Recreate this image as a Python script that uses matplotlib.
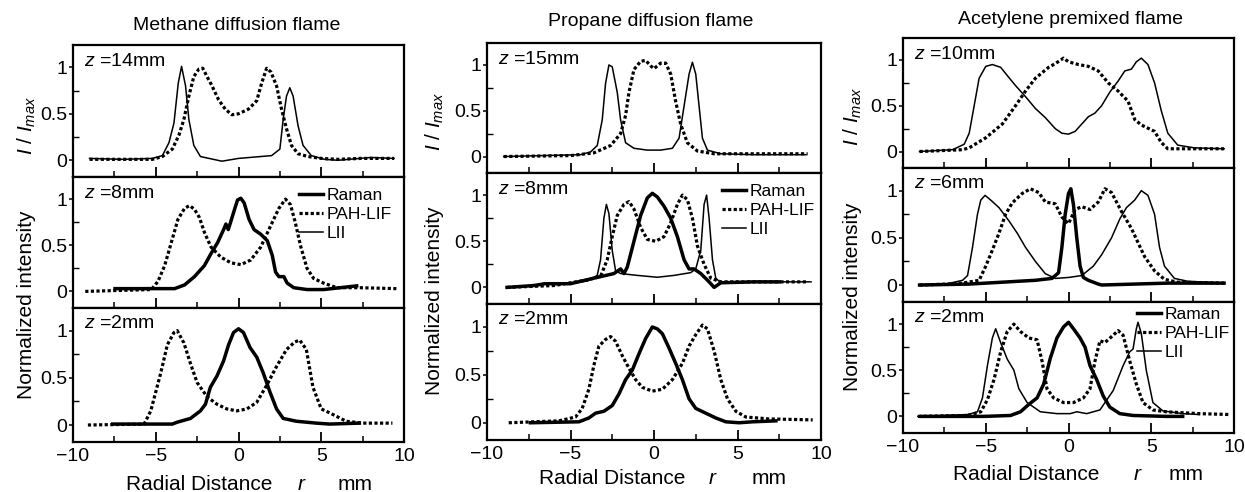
import numpy as np
import matplotlib
matplotlib.use('Agg')
import matplotlib.pyplot as plt
from matplotlib.ticker import FixedLocator
from matplotlib.lines import Line2D

plt.rcParams['font.family'] = ['Liberation Sans', 'DejaVu Sans']
plt.rcParams['mathtext.fontset'] = 'custom'
plt.rcParams['mathtext.rm'] = 'Liberation Sans'
plt.rcParams['mathtext.it'] = 'Liberation Sans:italic'

# ---------------- data (r in mm, normalized intensity) ----------------
# Methane diffusion flame, z = 14 mm
m14_lii_r = [-9.0, -7.0, -5.2, -4.6, -4.2, -3.9, -3.64, -3.44, -3.2, -3.0, -2.7, -2.3, -1.0, 0.0, 2.0, 2.5, 2.7, 2.9, 3.1, 3.3, 3.6, 3.9, 4.4, 5.2, 6.0, 8.0, 9.4]
m14_lii_v = [0.02, 0.01, 0.02, 0.05, 0.19, 0.4, 0.83, 1.01, 0.8, 0.44, 0.16, 0.04, -0.01, 0.02, 0.05, 0.12, 0.44, 0.69, 0.78, 0.69, 0.37, 0.16, 0.05, 0.01, 0.0, 0.03, 0.02]
m14_pah_r = [-9.0, -5.2, -4.6, -4.0, -3.6, -3.3, -3.0, -2.7, -2.4, -2.16, -1.9, -1.6, -1.2, -0.8, -0.4, 0.0, 0.6, 1.1, 1.4, 1.7, 1.96, 2.3, 2.6, 2.9, 3.2, 3.6, 4.2, 5.0, 6.0, 7.4, 9.4]
m14_pah_v = [0.01, 0.01, 0.04, 0.12, 0.27, 0.44, 0.69, 0.9, 0.98, 0.99, 0.9, 0.8, 0.65, 0.55, 0.49, 0.5, 0.55, 0.64, 0.83, 0.99, 0.95, 0.8, 0.55, 0.34, 0.16, 0.07, 0.04, 0.02, 0.01, 0.02, 0.02]

# Methane, z = 8 mm
m8_ram_r = [-7.46, -3.86, -3.26, -2.66, -2.06, -1.66, -1.26, -0.9, -0.76, -0.62, -0.46, -0.22, -0.06, 0.14, 0.34, 0.64, 0.94, 1.34, 1.74, 2.04, 2.24, 2.44, 2.74, 2.94, 3.34, 4.14, 5.14, 6.14, 7.14]
m8_ram_v = [0.03, 0.03, 0.07, 0.16, 0.28, 0.41, 0.53, 0.67, 0.73, 0.67, 0.76, 0.9, 0.99, 1.01, 0.96, 0.78, 0.67, 0.62, 0.55, 0.39, 0.21, 0.16, 0.16, 0.09, 0.04, 0.02, 0.02, 0.04, 0.06]
m8_pah_r = [-9.26, -5.26, -4.86, -4.46, -4.06, -3.66, -3.26, -2.96, -2.66, -2.36, -2.06, -1.66, -1.06, -0.46, 0.14, 0.74, 1.34, 1.94, 2.44, 2.84, 3.14, 3.44, 3.74, 4.14, 4.54, 5.14, 5.94, 7.34, 9.54]
m8_pah_v = [0.0, 0.02, 0.11, 0.28, 0.53, 0.78, 0.9, 0.93, 0.89, 0.8, 0.64, 0.48, 0.37, 0.31, 0.29, 0.34, 0.48, 0.71, 0.9, 1.0, 0.94, 0.74, 0.5, 0.25, 0.14, 0.09, 0.04, 0.04, 0.03]

# Methane, z = 2 mm
m2_ram_r = [-7.6, -4.0, -3.7, -2.9, -2.3, -2.0, -1.7, -1.3, -0.9, -0.6, -0.3, 0.0, 0.3, 0.7, 1.1, 1.5, 1.9, 2.3, 2.7, 3.5, 4.7, 5.5, 7.3]
m2_ram_v = [0.01, 0.01, 0.03, 0.07, 0.15, 0.22, 0.4, 0.52, 0.68, 0.85, 0.98, 1.02, 0.98, 0.82, 0.72, 0.55, 0.35, 0.17, 0.07, 0.04, 0.02, 0.01, 0.02]
m2_pah_r = [-9.1, -5.7, -5.3, -4.7, -4.3, -3.9, -3.7, -3.3, -2.9, -2.5, -1.9, -1.3, -0.7, -0.1, 0.5, 1.1, 1.7, 2.3, 2.9, 3.4, 3.7, 4.1, 4.5, 5.0, 5.5, 6.5, 7.5, 9.3]
m2_pah_v = [0.0, 0.01, 0.15, 0.55, 0.85, 0.98, 1.0, 0.87, 0.65, 0.45, 0.3, 0.22, 0.17, 0.15, 0.17, 0.24, 0.42, 0.62, 0.8, 0.88, 0.9, 0.8, 0.4, 0.17, 0.13, 0.04, 0.02, 0.02]

# Propane diffusion flame, z = 15 mm
p15_lii_r = [-9.0, -4.4, -3.8, -3.4, -3.1, -2.9, -2.7, -2.5, -2.2, -2.0, -1.7, -1.2, -0.4, 0.4, 1.1, 1.5, 1.8, 2.1, 2.3, 2.5, 2.7, 2.9, 3.2, 4.0, 6.0, 9.1]
p15_lii_v = [0.0, 0.02, 0.05, 0.12, 0.4, 0.8, 1.0, 0.98, 0.7, 0.4, 0.15, 0.09, 0.07, 0.07, 0.09, 0.2, 0.55, 0.9, 1.03, 0.9, 0.55, 0.2, 0.07, 0.03, 0.02, 0.02]
p15_pah_r = [-9.0, -5.0, -3.6, -2.6, -2.0, -1.7, -1.5, -1.2, -0.8, -0.5, -0.2, 0.0, 0.4, 0.7, 1.0, 1.3, 1.6, 2.0, 2.6, 3.6, 6.0, 9.2]
p15_pah_v = [0.0, 0.01, 0.04, 0.12, 0.25, 0.45, 0.7, 0.95, 1.04, 1.05, 0.99, 0.96, 1.02, 1.02, 0.9, 0.6, 0.35, 0.15, 0.06, 0.03, 0.03, 0.03]

# Propane, z = 8 mm
p8_lii_r = [-8.8, -7.2, -6.5, -6.0, -5.0, -4.0, -3.4, -3.2, -3.0, -2.85, -2.7, -2.5, -2.3, -2.0, -1.0, 0.2, 1.2, 2.2, 2.5, 2.8, 3.0, 3.15, 3.3, 3.5, 3.7, 4.0, 6.0, 9.4]
p8_lii_v = [0.0, 0.02, 0.05, 0.03, 0.04, 0.07, 0.13, 0.3, 0.75, 0.9, 0.8, 0.4, 0.18, 0.15, 0.13, 0.11, 0.13, 0.16, 0.2, 0.4, 0.9, 1.0, 0.75, 0.3, 0.1, 0.05, 0.06, 0.06]
p8_ram_r = [-8.8, -7.2, -6.5, -5.0, -3.6, -2.4, -2.0, -1.8, -1.6, -1.2, -0.8, -0.4, -0.1, 0.2, 0.6, 1.0, 1.4, 1.8, 2.1, 2.4, 2.8, 3.3, 3.6, 4.0, 6.0, 7.5]
p8_ram_v = [0.0, 0.02, 0.04, 0.04, 0.1, 0.15, 0.2, 0.15, 0.22, 0.5, 0.78, 0.97, 1.02, 0.98, 0.88, 0.75, 0.55, 0.3, 0.2, 0.2, 0.15, 0.06, 0.0, 0.05, 0.06, 0.06]
p8_pah_r = [-8.8, -6.0, -4.0, -3.2, -2.8, -2.5, -2.2, -1.8, -1.5, -1.2, -0.8, -0.4, 0.1, 0.6, 1.0, 1.4, 1.7, 2.0, 2.3, 2.6, 3.0, 3.4, 4.0, 6.0, 9.2]
p8_pah_v = [0.0, 0.02, 0.08, 0.12, 0.3, 0.55, 0.78, 0.9, 0.93, 0.85, 0.65, 0.52, 0.5, 0.55, 0.7, 0.9, 1.0, 0.95, 0.75, 0.45, 0.25, 0.1, 0.06, 0.06, 0.06]

# Propane, z = 2 mm
p2_ram_r = [-7.4, -4.5, -3.9, -3.5, -3.0, -2.5, -2.1, -1.7, -1.3, -0.9, -0.5, -0.1, 0.2, 0.5, 0.9, 1.3, 1.7, 2.1, 2.5, 3.1, 3.7, 4.3, 5.1, 5.9, 7.3]
p2_ram_v = [0.0, 0.01, 0.05, 0.1, 0.12, 0.18, 0.3, 0.45, 0.55, 0.72, 0.88, 1.0, 0.98, 0.93, 0.78, 0.62, 0.45, 0.25, 0.15, 0.1, 0.05, 0.01, 0.0, 0.01, 0.02]
p2_pah_r = [-8.7, -5.7, -4.7, -4.3, -3.9, -3.6, -3.3, -2.9, -2.6, -2.3, -1.9, -1.5, -1.1, -0.7, -0.1, 0.5, 1.1, 1.7, 2.1, 2.5, 2.9, 3.2, 3.6, 4.0, 4.4, 4.9, 5.5, 6.9, 9.5]
p2_pah_v = [0.0, 0.02, 0.06, 0.15, 0.35, 0.6, 0.8, 0.87, 0.9, 0.85, 0.7, 0.57, 0.45, 0.37, 0.33, 0.35, 0.45, 0.62, 0.8, 0.92, 1.02, 0.98, 0.75, 0.45, 0.25, 0.12, 0.06, 0.04, 0.03]

# Acetylene premixed flame, z = 10 mm
a10_lii_r = [-9.0, -7.0, -6.3, -6.0, -5.7, -5.4, -5.0, -4.6, -4.1, -3.7, -3.2, -2.6, -2.0, -1.4, -0.8, -0.4, 0.0, 0.4, 0.8, 1.2, 1.6, 2.0, 2.5, 3.0, 3.4, 3.8, 4.1, 4.4, 4.8, 5.2, 5.6, 6.0, 6.6, 7.6, 9.4]
a10_lii_v = [0.0, 0.02, 0.08, 0.2, 0.5, 0.8, 0.93, 0.95, 0.92, 0.83, 0.72, 0.6, 0.47, 0.37, 0.25, 0.2, 0.19, 0.22, 0.3, 0.38, 0.42, 0.5, 0.65, 0.77, 0.88, 0.9, 0.98, 1.02, 0.95, 0.75, 0.45, 0.2, 0.07, 0.04, 0.03]
a10_pah_r = [-9.0, -6.4, -6.0, -5.0, -4.0, -3.2, -2.6, -2.0, -1.6, -1.2, -0.8, -0.3, 0.0, 0.6, 1.2, 1.8, 2.4, 3.0, 3.6, 4.0, 4.4, 5.2, 5.6, 6.0, 7.0, 9.4]
a10_pah_v = [0.0, 0.02, 0.04, 0.15, 0.3, 0.5, 0.66, 0.8, 0.86, 0.92, 0.96, 1.02, 0.98, 0.95, 0.93, 0.88, 0.75, 0.66, 0.55, 0.35, 0.29, 0.22, 0.1, 0.03, 0.03, 0.03]

# Acetylene, z = 6 mm
a6_lii_r = [-9.0, -7.4, -6.4, -6.1, -5.8, -5.5, -5.3, -5.04, -4.7, -4.2, -3.6, -3.1, -2.6, -2.0, -1.4, -0.8, 0.0, 0.8, 1.5, 2.0, 2.6, 3.1, 3.5, 4.0, 4.4, 4.8, 5.2, 5.5, 5.8, 6.4, 7.2, 9.4]
a6_lii_v = [0.0, 0.01, 0.05, 0.1, 0.4, 0.75, 0.9, 0.95, 0.9, 0.82, 0.68, 0.55, 0.4, 0.25, 0.12, 0.07, 0.08, 0.1, 0.2, 0.32, 0.5, 0.7, 0.82, 0.9, 1.0, 0.95, 0.75, 0.4, 0.2, 0.07, 0.04, 0.02]
a6_ram_r = [-9.0, -6.0, -4.0, -2.0, -1.0, -0.6, -0.4, -0.2, 0.0, 0.14, 0.3, 0.5, 0.7, 0.9, 1.2, 1.8, 2.0, 4.0, 6.0, 9.4]
a6_ram_v = [0.0, 0.01, 0.03, 0.05, 0.07, 0.13, 0.4, 0.75, 0.97, 1.02, 0.85, 0.5, 0.2, 0.08, 0.05, 0.01, 0.0, 0.01, 0.02, 0.02]
a6_pah_r = [-9.0, -7.2, -6.4, -5.4, -5.0, -4.6, -4.2, -3.8, -3.4, -2.8, -2.3, -1.8, -1.4, -0.8, -0.4, 0.0, 0.4, 0.8, 1.3, 1.8, 2.2, 2.6, 3.2, 3.8, 4.2, 4.6, 5.2, 5.8, 6.6, 9.4]
a6_pah_v = [0.0, 0.01, 0.02, 0.05, 0.2, 0.37, 0.55, 0.75, 0.87, 0.97, 1.02, 0.98, 0.88, 0.86, 0.72, 0.65, 0.8, 0.83, 0.8, 0.88, 1.02, 0.98, 0.78, 0.6, 0.45, 0.3, 0.15, 0.06, 0.03, 0.02]

# Acetylene, z = 2 mm
a2_lii_r = [-9.1, -6.1, -5.5, -5.2, -4.9, -4.6, -4.4, -4.1, -3.7, -3.3, -3.0, -2.5, -1.7, -0.7, 0.1, 0.5, 1.1, 1.9, 2.7, 3.3, 3.7, 3.9, 4.1, 4.2, 4.4, 4.7, 5.1, 5.7, 6.9, 7.9]
a2_lii_v = [0.0, 0.02, 0.05, 0.2, 0.55, 0.85, 0.95, 0.8, 0.62, 0.5, 0.3, 0.15, 0.05, 0.03, 0.03, 0.05, 0.03, 0.07, 0.28, 0.55, 0.7, 0.73, 0.95, 1.02, 0.9, 0.5, 0.15, 0.06, 0.03, 0.02]
a2_ram_r = [-8.9, -5.1, -3.5, -2.9, -2.4, -1.9, -1.5, -1.1, -0.7, -0.3, 0.0, 0.3, 0.7, 1.0, 1.3, 1.7, 2.1, 2.5, 3.1, 3.9, 5.9, 6.9]
a2_ram_v = [0.0, 0.0, 0.01, 0.05, 0.13, 0.2, 0.35, 0.63, 0.85, 0.97, 1.02, 0.95, 0.85, 0.75, 0.55, 0.4, 0.22, 0.1, 0.03, 0.01, 0.0, 0.0]
a2_pah_r = [-9.1, -6.1, -5.3, -4.9, -4.5, -4.1, -3.7, -3.3, -2.9, -2.4, -1.9, -1.6, -1.3, -0.9, -0.3, 0.3, 0.9, 1.3, 1.6, 1.9, 2.2, 2.7, 3.0, 3.3, 3.7, 4.1, 4.5, 5.1, 5.9, 7.9, 9.8]
a2_pah_v = [0.0, 0.01, 0.05, 0.18, 0.4, 0.7, 0.92, 1.0, 0.92, 0.85, 0.83, 0.6, 0.3, 0.2, 0.15, 0.15, 0.2, 0.3, 0.6, 0.82, 0.8, 0.88, 0.93, 0.88, 0.6, 0.35, 0.15, 0.07, 0.05, 0.03, 0.02]

titles = ['Methane diffusion flame', 'Propane diffusion flame', 'Acetylene premixed flame']
z_labels = [['14mm', '8mm', '2mm'], ['15mm', '8mm', '2mm'], ['10mm', '6mm', '2mm']]
legend_labels = ['Raman', 'PAH-LIF', 'LII']
x_ticks = [-10, -5, 0, 5, 10]
x_tick_labels = ['\u221210', '\u22125', '0', '5', '10']
y_ticks = [0, 0.5, 1]
y_tick_labels = ['0', '0.5', '1']

series = [
    [[('LII', m14_lii_r, m14_lii_v), ('PAH-LIF', m14_pah_r, m14_pah_v)],
     [('Raman', m8_ram_r, m8_ram_v), ('PAH-LIF', m8_pah_r, m8_pah_v)],
     [('Raman', m2_ram_r, m2_ram_v), ('PAH-LIF', m2_pah_r, m2_pah_v)]],
    [[('LII', p15_lii_r, p15_lii_v), ('PAH-LIF', p15_pah_r, p15_pah_v)],
     [('LII', p8_lii_r, p8_lii_v), ('Raman', p8_ram_r, p8_ram_v), ('PAH-LIF', p8_pah_r, p8_pah_v)],
     [('Raman', p2_ram_r, p2_ram_v), ('PAH-LIF', p2_pah_r, p2_pah_v)]],
    [[('LII', a10_lii_r, a10_lii_v), ('PAH-LIF', a10_pah_r, a10_pah_v)],
     [('LII', a6_lii_r, a6_lii_v), ('Raman', a6_ram_r, a6_ram_v), ('PAH-LIF', a6_pah_r, a6_pah_v)],
     [('LII', a2_lii_r, a2_lii_v), ('Raman', a2_ram_r, a2_ram_v), ('PAH-LIF', a2_pah_r, a2_pah_v)]],
]
legend_row = [1, 1, 2]

# ---------------- layout (pixels) ----------------
W, H = 1245, 492
fig = plt.figure(figsize=(W / 100, H / 100), dpi=100)

cols = [  # left, right, row boundaries
    (73, 404, [45, 177, 308, 442]),
    (487, 821, [43, 173, 304, 440]),
    (903, 1234, [38, 168, 302, 433]),
]
# legend: (gap from right spine to text end, gap from panel top to first row centre), px
legend_pad = [(12, 20), (6, 20), (4, 14)]
title_pos = [(237, 26), (651, 22), (1071, 19)]
ylab1_pos = [(27, 125), (435, 121), (853, 116)]
ylab2_pos = [(27, 305), (435, 301), (853, 297)]
xlab_pos = [((199, 302, 355), 484), ((612, 713, 769), 478), ((1026, 1138, 1186), 474)]

STYLE = {
    'Raman': dict(color='black', lw=2.5, ls='-'),
    'PAH-LIF': dict(color='black', lw=2.3, ls=(0, (1, 0.75))),
    'LII': dict(color='black', lw=1.1, ls='-'),
}


def fx(px):
    return px / W


def fy(py):
    return 1 - py / H


for c, (left, right, rows) in enumerate(cols):
    for r in range(3):
        top, bot = rows[r], rows[r + 1]
        wpx, hpx = right - left, bot - top
        ax = fig.add_axes([fx(left), fy(bot), wpx / W, hpx / H])
        ax.set_xlim(-10, 10)
        ax.set_ylim(-0.18, 1.24)
        for name, rr, vv in series[c][r]:
            ax.plot(rr, vv, **STYLE[name])
        for sp in ax.spines.values():
            sp.set_linewidth(1.6)
        ax.xaxis.set_major_locator(FixedLocator(x_ticks))
        ax.xaxis.set_minor_locator(FixedLocator([-7.5, -2.5, 2.5, 7.5]))
        ax.yaxis.set_major_locator(FixedLocator(y_ticks))
        ax.yaxis.set_minor_locator(FixedLocator([0.25, 0.75]))
        ax.set_yticklabels(y_tick_labels)
        ax.tick_params(axis='x', which='major', direction='in', length=7, width=1.3)
        ax.tick_params(axis='x', which='minor', direction='in', length=4, width=1.1)
        ax.tick_params(axis='y', which='major', direction='out', length=3, width=1.1,
                       labelsize=14, pad=1)
        ax.tick_params(axis='y', which='minor', direction='in', length=4, width=1.0)
        if r < 2:
            ax.tick_params(axis='x', labelbottom=False)
        else:
            ax.set_xticklabels(x_tick_labels)
            ax.tick_params(axis='x', labelsize=14, pad=4)
        ax.annotate('$z$ =' + z_labels[c][r], xy=(0, 1), xycoords='axes fraction',
                    xytext=(11, -16), textcoords='offset pixels',
                    ha='left', va='center', fontsize=14)
        if r == legend_row[c]:
            gx, gy = legend_pad[c]
            handles = [Line2D([], [], **STYLE[n]) for n in legend_labels]
            ax.legend(handles, legend_labels, loc='upper right', frameon=False,
                      fontsize=12.5, handlelength=1.4, handletextpad=0.2,
                      labelspacing=0.22, borderaxespad=0, borderpad=0,
                      bbox_to_anchor=(1 - gx / wpx, 1 - (gy - 9) / hpx))

    fig.text(fx(title_pos[c][0]), fy(title_pos[c][1]), titles[c], ha='center', va='center',
             fontsize=14)
    fig.text(fx(ylab1_pos[c][0]), fy(ylab1_pos[c][1]), r'$I\ /\ I_{max}$', ha='center',
             va='center', rotation=90, fontsize=15)
    fig.text(fx(ylab2_pos[c][0]), fy(ylab2_pos[c][1]), 'Normalized intensity', ha='center',
             va='center', rotation=90, fontsize=15)
    (x1, x2, x3), yl = xlab_pos[c]
    fig.text(fx(x1), fy(yl), 'Radial Distance', ha='center', va='center', fontsize=15)
    fig.text(fx(x2), fy(yl), '$r$', ha='center', va='center', fontsize=15)
    fig.text(fx(x3), fy(yl), 'mm', ha='center', va='center', fontsize=15)

fig.savefig('out.png', dpi=100)
